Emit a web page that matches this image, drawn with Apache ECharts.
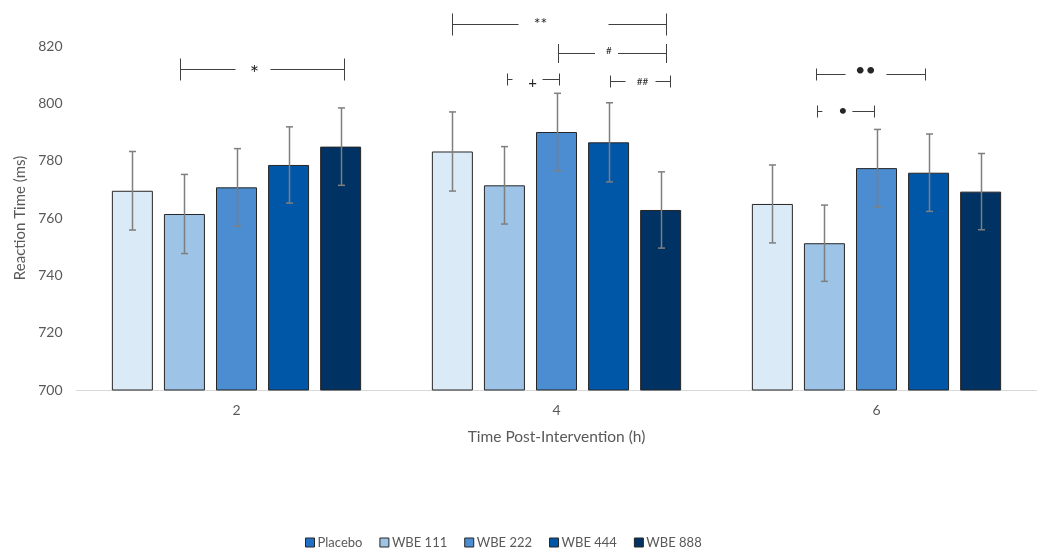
<!DOCTYPE html>
<html>
<head>
<meta charset="utf-8">
<script src="https://cdn.jsdelivr.net/npm/echarts@6/dist/echarts.min.js"></script>
<style>html,body{margin:0;padding:0;background:#fff}#c{width:1040px;height:550px}</style>
</head>
<body>
<div id="c"></div>
<script>
// ---- data ----
const categories = ['2', '4', '6'];
const seriesNames = ['Placebo', 'WBE 111', 'WBE 222', 'WBE 444', 'WBE 888'];
const placebo = [769.5, 783.2, 764.9];
const wbe111  = [761.4, 771.4, 751.2];
const wbe222  = [770.7, 790.0, 777.4];
const wbe444  = [778.5, 786.4, 775.8];
const wbe888  = [784.9, 762.8, 769.2];
const errPlacebo = [13.7, 13.8, 13.6];
const err111     = [13.8, 13.5, 13.3];
const err222     = [13.5, 13.5, 13.5];
const err444     = [13.3, 13.8, 13.5];
const err888     = [13.5, 13.3, 13.3];
const yTicks = [700, 720, 740, 760, 780, 800, 820];
// significance brackets: [category index, from bar slot, to bar slot, value, label]
const brackets = [
  [0, 0.91, 4.07, 811.9, '*'],
  [1, 0.00, 4.10, 827.6, '**'],
  [1, 2.03, 4.10, 817.6, '#'],
  [1, 1.04, 2.05, 808.5, '+'],
  [1, 3.02, 4.18, 807.8, '##'],
  [2, 0.84, 2.93, 810.2, '\u2022\u2022'],
  [2, 0.86, 1.96, 797.3, '\u2022']
];

// ---- styles ----
const colors = ['#DAEBF7', '#9DC3E6', '#4C8CD0', '#0057A8', '#003264'];
const legendColors = ['#2070C8', '#9DC3E6', '#4C8CD0', '#0057A8', '#003264'];
const BAR_W = 41, BAR_GAP = 0.27;
const PITCH = BAR_W * (1 + BAR_GAP);
// per bracket: [tick half length, gap width, gap dx, label dx, label dy, font size]
const bracketStyle = [
  [11, 35, -9.5, -8, 4, 22],
  [11, 90, 4, -19, -1, 16],
  [9.5, 23, -6, -3.5, -3, 10],
  [6, 30, -6, -1, 4, 15],
  [6, 30, 0, 2, 0, 10],
  [6, 41, -5, -5.5, -4, 18],
  [6, 30, -8.6, -3, -1, 16]
];
const FONT = 'Lato, "Open Sans", sans-serif';

const values = [placebo, wbe111, wbe222, wbe444, wbe888];
const errs = [errPlacebo, err111, err222, err444, err888];

const errData = [];
values.forEach((arr, s) => arr.forEach((v, c) => errData.push([c, s, v, errs[s][c]])));

const barSeries = seriesNames.map((n, i) => ({
  name: n,
  type: 'bar',
  data: values[i],
  barWidth: BAR_W,
  barGap: (BAR_GAP * 100) + '%',
  itemStyle: { color: colors[i], borderColor: '#262626', borderWidth: 1 }
}));

const chart = echarts.init(document.getElementById('c'));
chart.setOption({
  animation: false,
  textStyle: { fontFamily: FONT },
  grid: { left: 76.5, right: 3.5, top: 46, bottom: 160, containLabel: false },
  legend: {
    data: seriesNames.map((n, i) => ({ name: n, itemStyle: { color: legendColors[i], borderColor: '#262626', borderWidth: 1 } })),
    left: 300, top: 531,
    itemWidth: 9, itemHeight: 9, itemGap: 17,
    icon: 'rect',
    textStyle: { color: '#595959', fontSize: 13, fontFamily: FONT, padding: [0, 0, 0, -2] }
  },
  xAxis: {
    type: 'category',
    data: categories,
    name: 'Time Post-Intervention (h)',
    nameLocation: 'middle',
    nameGap: 39,
    nameTextStyle: { color: '#595959', fontSize: 15.5 },
    axisLine: { lineStyle: { color: '#D9D9D9', width: 1 } },
    axisTick: { show: false },
    axisLabel: { color: '#595959', fontSize: 14, margin: 13 }
  },
  yAxis: {
    type: 'value',
    min: yTicks[0], max: yTicks[yTicks.length - 1], interval: yTicks[1] - yTicks[0],
    name: 'Reaction Time (ms)',
    nameLocation: 'middle',
    nameGap: 37,
    nameTextStyle: { color: '#595959', fontSize: 15 },
    axisLine: { show: false },
    axisTick: { show: false },
    splitLine: { show: false },
    axisLabel: { color: '#595959', fontSize: 14, margin: 14 }
  },
  series: barSeries.concat([
    {
      type: 'custom',
      name: 'err',
      z: 5,
      clip: false,
      silent: true,
      data: errData,
      encode: { x: 0, y: 2 },
      renderItem: function (params, api) {
        const c = api.value(0), s = api.value(1), v = api.value(2), e = api.value(3);
        const base = api.coord([c, v]);
        const x = Math.round(base[0] + (s - 2) * PITCH) + 0.5;
        const yHi = api.coord([c, v + e])[1];
        const yLo = api.coord([c, v - e])[1];
        const st = { stroke: '#7F7F7F', lineWidth: 1.5 };
        return { type: 'group', children: [
          { type: 'line', shape: { x1: x, y1: yHi, x2: x, y2: yLo }, style: st },
          { type: 'line', shape: { x1: x - 3.5, y1: yHi, x2: x + 3.5, y2: yHi }, style: st },
          { type: 'line', shape: { x1: x - 3.5, y1: yLo, x2: x + 3.5, y2: yLo }, style: st }
        ]};
      }
    },
    {
      type: 'custom',
      name: 'sig',
      z: 6,
      clip: false,
      silent: true,
      data: brackets.map((b, i) => [b[0], b[1], b[2], b[3], i]),
      encode: { x: 0, y: 3 },
      renderItem: function (params, api) {
        const c = api.value(0), f = api.value(1), t = api.value(2), v = api.value(3), i = api.value(4);
        const st = bracketStyle[i];
        const base = api.coord([c, v]);
        const x1 = Math.round(base[0] + (f - 2) * PITCH) + 0.5;
        const x2 = Math.round(base[0] + (t - 2) * PITCH) + 0.5;
        const y = Math.round(base[1]) + 0.5;
        const mid = (x1 + x2) / 2;
        const g1 = mid + st[2] - st[1] / 2, g2 = mid + st[2] + st[1] / 2;
        const ls = { stroke: '#404040', lineWidth: 1 };
        return { type: 'group', children: [
          { type: 'line', shape: { x1: x1, y1: y - st[0], x2: x1, y2: y + st[0] }, style: ls },
          { type: 'line', shape: { x1: x2, y1: y - st[0], x2: x2, y2: y + st[0] }, style: ls },
          { type: 'line', shape: { x1: x1, y1: y, x2: g1, y2: y }, style: ls },
          { type: 'line', shape: { x1: g2, y1: y, x2: x2, y2: y }, style: ls },
          { type: 'text', style: { text: brackets[i][4], x: mid + st[3], y: y + st[4], align: 'center', verticalAlign: 'middle', fill: '#262626', fontSize: st[5], fontFamily: FONT } }
        ]};
      }
    }
  ])
});
</script>
</body>
</html>
